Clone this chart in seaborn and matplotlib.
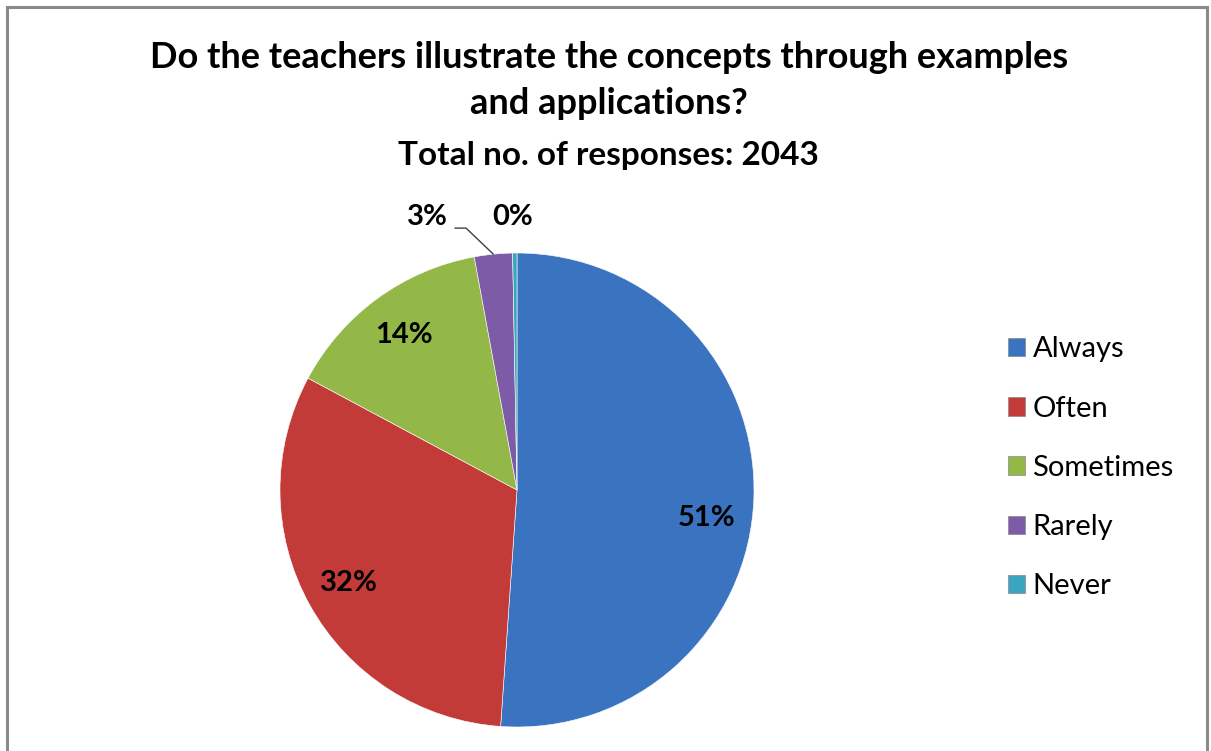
import numpy as np
import pandas as pd
import seaborn as sns
import matplotlib
matplotlib.use("Agg")
import matplotlib.pyplot as plt
from matplotlib.patches import Rectangle

categories = ["Always", "Often", "Sometimes", "Rarely", "Never"]
counts = [1044, 648, 292, 53, 6]
colors = ["#3A74C0", "#C23B38", "#93B847", "#7D5BA6", "#3AA5BE"]
title_lines = ["Do the teachers illustrate the concepts through examples", "and applications?"]
subtitle = "Total no. of responses: 2043"

df = pd.DataFrame({"category": categories, "count": counts})

sns.set_theme(style="white")
plt.rcParams["font.family"] = ["Lato", "DejaVu Sans"]
plt.rcParams["text.color"] = "black"

W, H = 1211, 751
fig = plt.figure(figsize=(W / 100, H / 100), dpi=100)
fig.patch.set_facecolor("white")

# frame
fig.add_artist(Rectangle((7 / W, -0.01), 1200 / W, (751 - 7) / H + 0.01,
                         transform=fig.transFigure, fill=False,
                         edgecolor="#8a8a8a", linewidth=2.2))

cx, cy, r = 517, 490, 237
ax = fig.add_axes([(cx - r) / W, (H - cy - r) / H, 2 * r / W, 2 * r / H])

total = df["count"].sum()
pct = df["count"] / total * 100

def fmt(p):
    return f"{p:.0f}%" if p >= 5 else ""

wedges, texts, autotexts = ax.pie(
    df["count"], colors=colors, startangle=90, counterclock=False,
    radius=1.0, autopct=fmt, pctdistance=0.81,
    wedgeprops=dict(edgecolor="white", linewidth=0.4),
    textprops=dict(fontsize=21, fontweight="bold", color="black"))
ax.set_xlim(-1, 1)
ax.set_ylim(-1, 1)
ax.set_aspect("equal")
ax.axis("off")

# Excel-style placement of the largest label (slightly below the bisector)
w0 = wedges[0]
a0 = np.deg2rad((w0.theta1 + w0.theta2) / 2 - 6.5)
autotexts[0].set_position((0.81 * np.cos(a0), 0.81 * np.sin(a0)))

# small slice labels outside
for i, w in enumerate(wedges):
    if pct.iloc[i] >= 5:
        continue
    mid = np.deg2rad((w.theta1 + w.theta2) / 2)
    if df["category"].iloc[i] == "Rarely":
        ex, ey = np.cos(mid), np.sin(mid)
        ax.plot([-0.262, -0.215, ex], [1.105, 1.105, ey], color="#404040", lw=1.0,
                clip_on=False)
        ax.text(-0.38, 1.15, f"{pct.iloc[i]:.0f}%", ha="center", va="center",
                fontsize=21, fontweight="bold", color="black")
    else:
        ax.text(-0.02, 1.15, f"{pct.iloc[i]:.0f}%", ha="center", va="center",
                fontsize=21, fontweight="bold", color="black")

fig.text(0.5 * (147 + 1071) / W, 1 - 58 / H, title_lines[0], ha="center", va="center",
         fontsize=26, fontweight="bold", color="black")
fig.text(0.5 * (147 + 1071) / W, 1 - 103 / H, title_lines[1], ha="center", va="center",
         fontsize=26, fontweight="bold", color="black")
fig.text(0.5 * (399 + 818) / W, 1 - 155 / H, subtitle, ha="center", va="center",
         fontsize=24, fontweight="bold", color="black")

handles = [plt.Rectangle((0, 0), 1, 1, facecolor=c, edgecolor="#888888", linewidth=0.5) for c in colors]
fig.legend(handles, categories, loc="center left", bbox_to_anchor=(996 / W, 1 - 468 / H),
           frameon=False, fontsize=21, handlelength=0.6, handleheight=0.6,
           handletextpad=0.25, labelspacing=1.14, borderaxespad=0)

fig.savefig("out.png", dpi=100, facecolor="white")
